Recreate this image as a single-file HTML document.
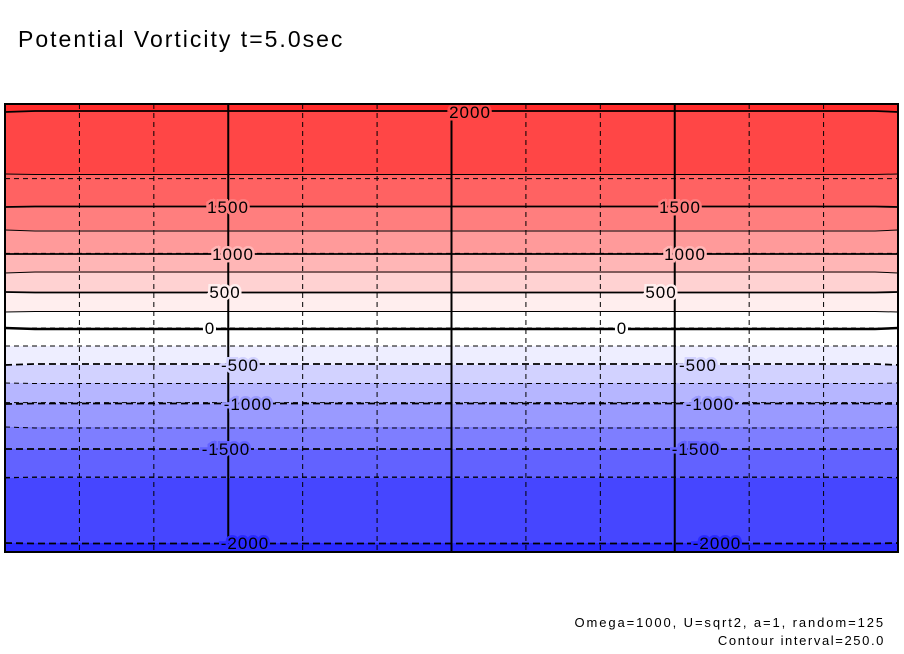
<!DOCTYPE html>
<html><head><meta charset="utf-8">
<style>
html,body{margin:0;padding:0;background:#fff;}
svg{display:block;font-family:"Liberation Sans",sans-serif;}
</style></head>
<body>
<svg id="chart" width="904" height="654" viewBox="0 0 904 654">
<text x="18" y="47" font-size="23" letter-spacing="2" fill="#000">Potential Vorticity t=5.0sec</text>
<g id="bands"></g>
<g id="grid"></g>
<g id="lines"></g>
<g id="labels"></g>
<rect x="5" y="104" width="893" height="448" fill="none" stroke="#000" stroke-width="2"/>
<text x="885" y="627" font-size="13" letter-spacing="1.9" text-anchor="end">Omega=1000, U=sqrt2, a=1, random=125</text>
<text x="885" y="645" font-size="13" letter-spacing="1.6" text-anchor="end">Contour interval=250.0</text>
</svg>
<script>
// contour levels and their mean latitude (plot y position in data units: 0=top, 448=bottom)
const levels = [2000,1750,1500,1250,1000,750,500,250,0,-250,-500,-750,-1000,-1250,-1500,-1750,-2000];
const levelDepth = [8,70,103,126,150,169,188,208,224,242,261,279,300,323,345,374,439];
const bandColors = ["#ff2a2a","#ff4646","#ff6262","#ff7e7e","#ff9a9a","#ffb6b6","#ffd2d2","#ffeeee","#ffffff","#ffffff","#eeeeff","#d2d2ff","#b6b6ff","#9a9aff","#7e7eff","#6262ff","#4646ff","#2a2aff"];
const labelLevels = [2000,1500,1000,500,0,-500,-1000,-1500,-2000];
const labelX1 = [470,228,233,225,210,240,248,226,245];
const labelX2 = [null,680,685,661,622,698,710,696,717];

const X0=5, X1=898, Y0=104, H=448;
const ns="http://www.w3.org/2000/svg";
function yScale(d){return Y0+d;}
function yOfLevel(v){const i=levels.indexOf(v);return yScale(levelDepth[i]);}
function mk(tag,attrs,parent){const e=document.createElementNS(ns,tag);for(const k in attrs)e.setAttribute(k,attrs[k]);parent.appendChild(e);return e;}

const bands=document.getElementById('bands');
for(let i=0;i<=levels.length;i++){
  const top = i===0?Y0:yScale(levelDepth[i-1]);
  const bot = i===levels.length?Y0+H:yScale(levelDepth[i]);
  const r=mk('rect',{x:X0,y:top,width:X1-X0,height:bot-top,fill:bandColors[i]},bands);
  
  
}
const grid=document.getElementById('grid');
for(let k=1;k<12;k++){
  const x=X0+k*(X1-X0)/12;
  const solid=(k%3===0);
  const l=mk('line',{x1:x,x2:x,y1:Y0,y2:Y0+H,stroke:'#000','stroke-width':solid?2:1,'stroke-dasharray':solid?'none':'5,4'},grid);
  
  
}
for(let k=1;k<6;k++){
  const y=Y0+k*H/6;
  const l=mk('line',{x1:X0,x2:X1,y1:y,y2:y,stroke:'#000','stroke-width':1,'stroke-dasharray':'5,4'},grid);
  
  
}
const lines=document.getElementById('lines');
levels.forEach((v,i)=>{
  const y=yScale(levelDepth[i]);
  const major=(v%500===0);
  let d='M'+X0+' '+y;
  for(let x=X0+30;x<X1;x+=30){d+=' L'+x+' '+(y+((x*7+i*13)%5-2)*0.5);}
  d+=' L'+X1+' '+y;
  const p=mk('path',{d:d,fill:'none',stroke:'#000','stroke-width':major?(v===0?2.5:1.8):1,'stroke-dasharray':v<0?(major?'7,4':'5,4'):'none'},lines);
  
  
});
const labels=document.getElementById('labels');
labelLevels.forEach((v,i)=>{
  const y=yOfLevel(v);
  [labelX1[i],labelX2[i]].forEach(x=>{
    if(x===null)return;
    const t=mk('text',{x:x,y:y+6,'font-size':17,'letter-spacing':1,'text-anchor':'middle',fill:'#000',stroke:bandColors[levels.indexOf(v)+1],'stroke-width':5,'paint-order':'stroke'},labels);
    t.textContent=v<0?'-'+Math.abs(v):String(v);
    
    
  });
});
</script>
</body></html>
